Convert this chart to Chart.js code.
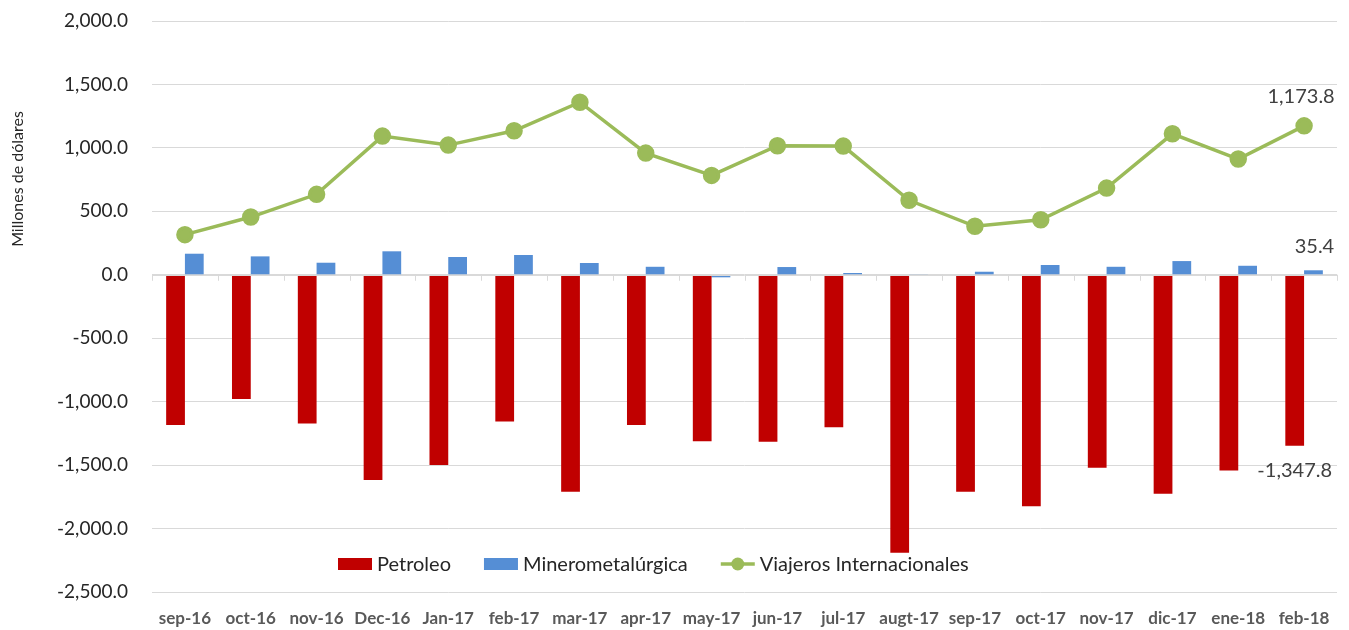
<!DOCTYPE html>
<html>
<head>
<meta charset="utf-8">
<script src="https://cdn.jsdelivr.net/npm/chart.js@4.4.1/dist/chart.umd.min.js"></script>
<style>
  html, body { margin: 0; padding: 0; background: #fff; }
  #wrap { width: 1349px; height: 630px; position: relative; }
</style>
</head>
<body>
<div id="wrap"><canvas id="myChart"></canvas></div>
<script>
const months = ["sep-16", "oct-16", "nov-16", "Dec-16", "Jan-17", "feb-17", "mar-17", "apr-17", "may-17",
  "jun-17", "jul-17", "augt-17", "sep-17", "oct-17", "nov-17", "dic-17", "ene-18", "feb-18"];
const petroleo = [-1183, -978, -1172, -1618, -1500, -1156, -1710, -1183, -1311,
  -1316, -1201, -2191, -1710, -1825, -1521, -1726, -1542, -1347.8];
const minero = [166, 145, 95, 185, 140, 156, 93, 63, -20,
  61, 14, 3, 24, 77, 63, 108, 71, 35.4];
const viajeros = [316, 455, 634, 1093, 1022, 1135, 1360, 959, 783,
  1017, 1014, 587, 382, 434, 683, 1111, 912, 1173.8];
const yMin = -2500, yMax = 2000, yStep = 500;
const yTitle = "Millones de dólares";

const fontFamily = "Lato, 'Noto Sans', sans-serif";

function fmt(v) {
  return v.toLocaleString("en-US", { minimumFractionDigits: 1, maximumFractionDigits: 1 });
}

// labels on the last point, legend inside the plot, axis title, zero-line ticks
const extras = {
  id: "extras",
  afterDraw(chart) {
    const ctx = chart.ctx;
    const area = chart.chartArea;
    const xs = chart.scales.x, ys = chart.scales.y;
    ctx.save();

    // small ticks on the zero line
    const step = xs.getPixelForValue(1) - xs.getPixelForValue(0);
    const y0 = ys.getPixelForValue(0);
    ctx.strokeStyle = "#d9d9d9";
    ctx.lineWidth = 1;
    for (let i = 0; i <= months.length; i++) {
      const x = Math.round(xs.getPixelForValue(0) - step / 2 + i * step) + 0.5;
      ctx.beginPath();
      ctx.moveTo(x, y0);
      ctx.lineTo(x, y0 + 6);
      ctx.stroke();
    }
    ctx.beginPath();
    ctx.moveTo(area.left, Math.round(y0) + 0.5);
    ctx.lineTo(area.right, Math.round(y0) + 0.5);
    ctx.stroke();

    // data labels on the last category
    const last = months.length - 1;
    ctx.font = "20px " + fontFamily;
    ctx.fillStyle = "#404040";
    ctx.textAlign = "center";
    ctx.textBaseline = "middle";
    const lineEl = chart.getDatasetMeta(0).data[last];
    ctx.fillText(fmt(viajeros[last]), lineEl.x - 3, lineEl.y - 29);
    const minEl = chart.getDatasetMeta(2).data[last];
    ctx.fillText(fmt(minero[last]), minEl.x + 1, minEl.y - 24);
    const petEl = chart.getDatasetMeta(1).data[last];
    ctx.fillText(fmt(petroleo[last]), petEl.x, petEl.y + 25);

    // y axis title
    ctx.save();
    ctx.translate(18, 179);
    ctx.rotate(-Math.PI / 2);
    ctx.font = "16px " + fontFamily;
    ctx.fillStyle = "#262626";
    ctx.fillText(yTitle, 0, 0);
    ctx.restore();

    // legend
    const ly = area.bottom - 28;
    let lx = area.left + 186;
    ctx.font = "20px " + fontFamily;
    ctx.textAlign = "left";
    const order = [1, 2, 0];
    order.forEach((di) => {
      const ds = chart.data.datasets[di];
      if (ds.type === "line") {
        ctx.strokeStyle = ds.borderColor;
        ctx.lineWidth = 3.5;
        ctx.beginPath();
        ctx.moveTo(lx, ly);
        ctx.lineTo(lx + 34, ly);
        ctx.stroke();
        ctx.fillStyle = ds.backgroundColor;
        ctx.beginPath();
        ctx.arc(lx + 17, ly, 6.5, 0, Math.PI * 2);
        ctx.fill();
      } else {
        ctx.fillStyle = ds.backgroundColor;
        ctx.fillRect(lx, ly - 6, 34, 12);
      }
      lx += 39;
      ctx.fillStyle = "#262626";
      ctx.fillText(ds.label, lx, ly + 1);
      lx += ctx.measureText(ds.label).width + 33;
    });

    ctx.restore();
  }
};

const ctx = document.getElementById("myChart");

new Chart(ctx, {
  data: {
    labels: months,
    datasets: [
      {
        type: "line",
        label: "Viajeros Internacionales",
        data: viajeros,
        borderColor: "#9bbb59",
        backgroundColor: "#9bbb59",
        borderWidth: 3.5,
        pointRadius: 7,
        pointHoverRadius: 7,
        tension: 0,
        order: 0,
      },
      {
        type: "bar",
        label: "Petroleo",
        data: petroleo,
        backgroundColor: "#c00000",
        categoryPercentage: 0.57,
        barPercentage: 1.0,
        order: 1,
      },
      {
        type: "bar",
        label: "Minerometalúrgica",
        data: minero,
        backgroundColor: "#558ed5",
        categoryPercentage: 0.57,
        barPercentage: 1.0,
        order: 1,
      },
    ],
  },
  options: {
    responsive: true,
    maintainAspectRatio: false,
    animation: false,
    layout: {
      padding: { top: 21, right: 12, bottom: 0, left: 0 },
    },
    plugins: {
      legend: { display: false },
      tooltip: { enabled: false },
    },
    scales: {
      x: {
        grid: { display: false, drawTicks: false },
        border: { display: false },
        ticks: {
          padding: 16,
          color: "#595959",
          font: { family: fontFamily, size: 17, weight: "bold" },
          maxRotation: 0,
          autoSkip: false,
        },
        afterFit(scale) {
          scale.height = 38;
        },
      },
      y: {
        min: yMin,
        max: yMax,
        ticks: {
          stepSize: yStep,
          padding: 24,
          color: "#262626",
          font: { family: fontFamily, size: 19 },
          callback: (v) => fmt(v),
        },
        grid: { color: "#d9d9d9", drawTicks: false },
        border: { display: false },
        afterFit(scale) {
          scale.width = 152;
          scale.paddingTop = 0;
          scale.paddingBottom = 0;
        },
      },
    },
  },
  plugins: [extras],
});
</script>
</body>
</html>
